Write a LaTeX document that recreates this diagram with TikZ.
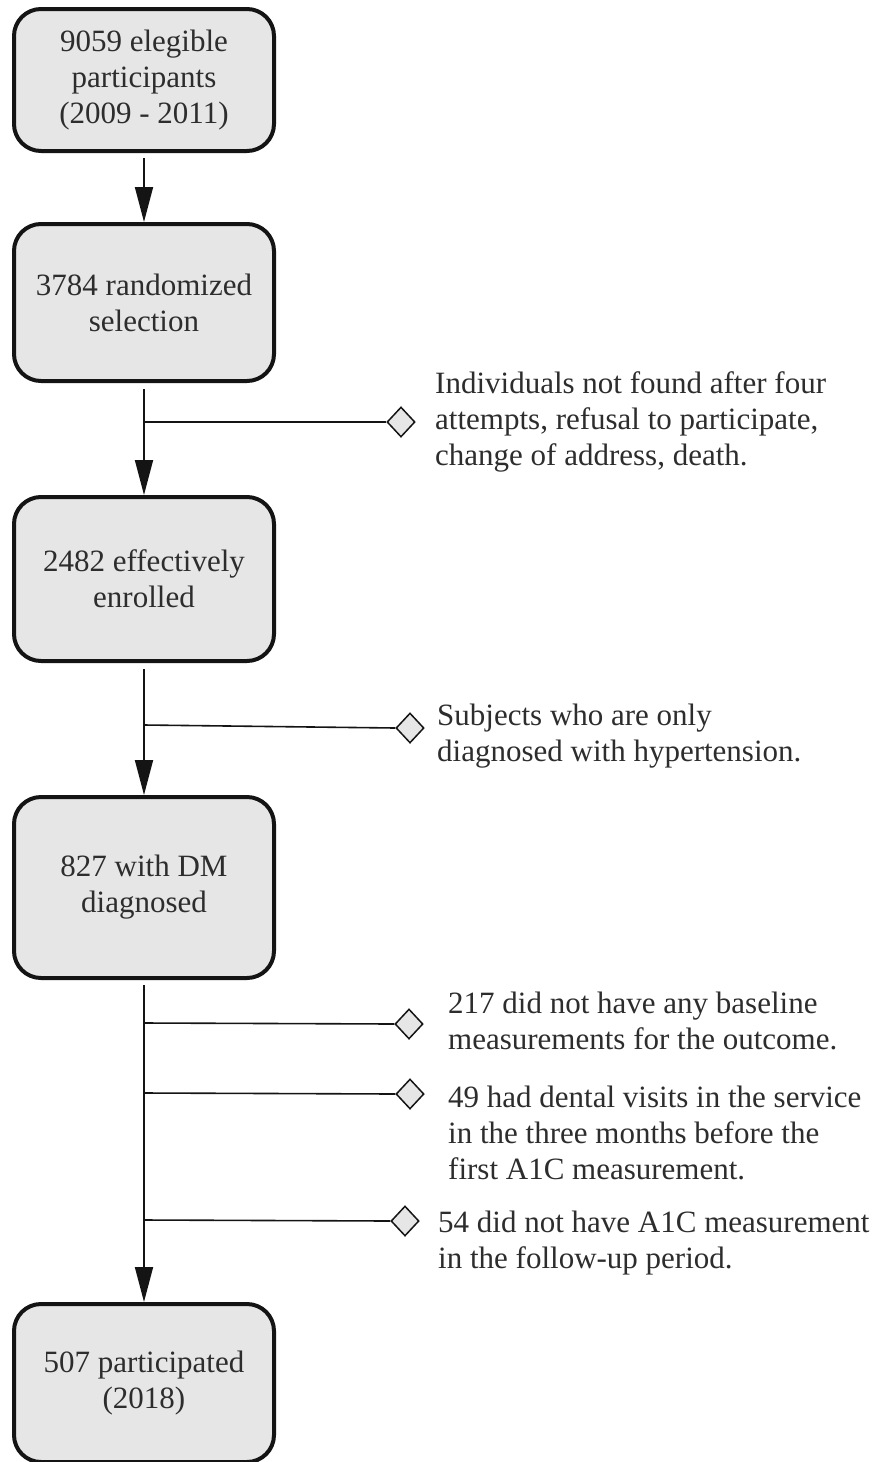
\documentclass[tikz,border=0pt]{standalone}
\usepackage{fontspec}
\setmainfont{Liberation Serif}
\usetikzlibrary{arrows.meta,shapes.geometric}
\definecolor{boxfill}{RGB}{230,230,230}
\definecolor{txt}{RGB}{45,45,45}
\definecolor{ln}{RGB}{20,20,20}
\begin{document}
\begin{tikzpicture}[x=1pt,y=-1pt,
  stage/.style={draw=ln, line width=4pt, fill=boxfill, rounded corners=27pt, minimum width=260pt, align=center, text=txt, font=\fontsize{31}{36}\selectfont, inner sep=0pt},
  note/.style={anchor=west, align=left, text=txt, font=\fontsize{31}{36}\selectfont, inner sep=0pt},
  flow/.style={draw=ln, line width=1.8pt, -{Triangle[length=35pt,width=18pt]}},
  branch/.style={draw=ln, line width=1.6pt},
  dia/.style={diamond, draw=ln, line width=1.5pt, fill=boxfill, minimum width=28pt, minimum height=30pt, inner sep=0pt}
]
\useasboundingbox[fill=white] (0,0) rectangle (881,1462);

\node[stage, minimum height=142pt] (b1) at (144,80) {9059 elegible\\participants\\(2009 - 2011)};
\node[stage, minimum height=157pt] (b2) at (144,302.5) {3784 randomized\\selection};
\node[stage, minimum height=164pt] (b3) at (144,579) {2482 effectively\\enrolled};
\node[stage, minimum height=181pt] (b4) at (144,887.5) {827 with DM\\diagnosed};
\node[stage, minimum height=158pt] (b5) at (144,1383) {507 participated\\(2018)};

\node[dia] (d1) at (401,422) {};
\node[dia] (d2) at (410,728) {};
\node[dia] (d3) at (409,1024) {};
\node[dia] (d4) at (410,1094) {};
\node[dia] (d5) at (405,1221) {};

\coordinate (j1) at (144,422);
\coordinate (j2) at (144,725);
\coordinate (j3) at (144,1023);
\coordinate (j4) at (144,1093);
\coordinate (j5) at (144,1220);

\draw[flow] ([yshift=-5pt]b1.south) -- (b2.north);
\draw[flow] ([yshift=-6pt]b2.south) -- (b3.north);
\draw[flow] ([yshift=-6pt]b3.south) -- (b4.north);
\draw[flow] ([yshift=-5pt]b4.south) -- (b5.north);

\draw[branch] (j1) -- (d1.west);
\draw[branch] (j2) -- (d2.west);
\draw[branch] (j3) -- (d3.west);
\draw[branch] (j4) -- (d4.west);
\draw[branch] (j5) -- (d5.west);

\node[note] (n1) at (435,421.5) {Individuals not found after four\\attempts, refusal to participate,\\change of address, death.};
\node[note] (n2) at (437,736) {Subjects who are only\\diagnosed with hypertension.};
\node[note] (n3) at (448,1021) {217 did not have any baseline\\measurements for the outcome.};
\node[note] (n4) at (448,1133) {49 had dental visits in the service\\in the three months before the\\first A1C measurement.};
\node[note] (n5) at (438,1243) {54 did not have A1C measurement\\in the follow-up period.};
\end{tikzpicture}
\end{document}
